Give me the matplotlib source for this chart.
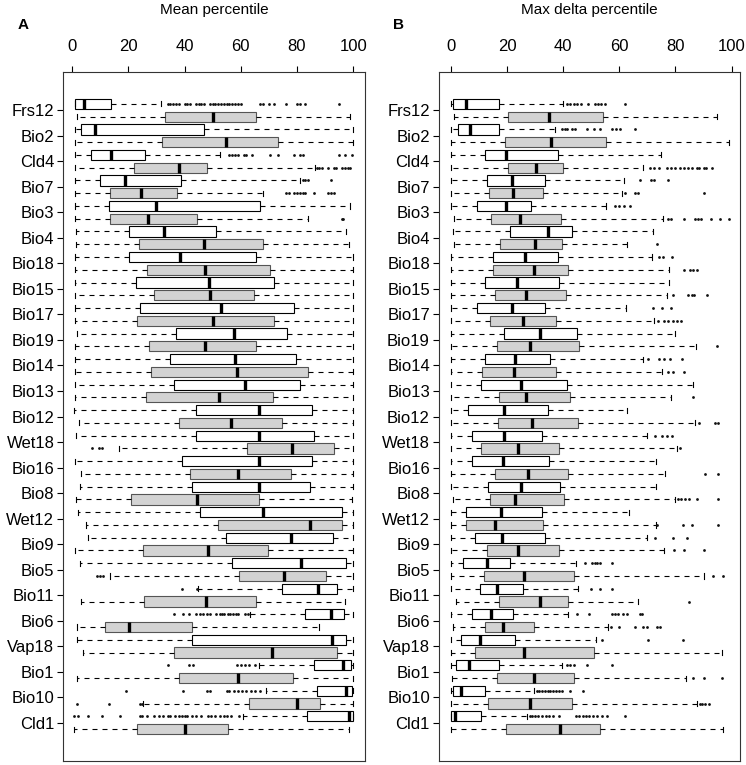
import matplotlib.pyplot as plt

plt.rcParams['font.family'] = ['Liberation Sans', 'DejaVu Sans']

variables = ['Frs12', 'Bio2', 'Cld4', 'Bio7', 'Bio3', 'Bio4', 'Bio18', 'Bio15', 'Bio17',
             'Bio19', 'Bio14', 'Bio13', 'Bio12', 'Wet18', 'Bio16', 'Bio8', 'Wet12', 'Bio9',
             'Bio5', 'Bio11', 'Bio6', 'Vap18', 'Bio1', 'Bio10', 'Cld1']

# (whisker low, Q1, median, Q3, whisker high) per variable
# panel A - mean percentile
mean_white = [
    (0.9, 1.2, 4.4, 13.7, 31.5), (1.1, 3.3, 8.2, 46.9, 99.8), (0.9, 6.6, 13.7, 26.1, 52.6),
    (0.9, 10.1, 19.0, 38.9, 81.0), (0.9, 13.3, 29.9, 66.8, 99.0), (1.5, 20.1, 32.7, 51.3, 97.6),
    (0.9, 20.1, 38.5, 65.4, 99.8), (0.9, 22.6, 48.8, 71.9, 99.8), (0.9, 24.1, 53.1, 79.0, 99.8),
    (1.7, 36.8, 57.5, 76.5, 99.8), (0.9, 35.0, 57.9, 79.6, 99.8), (0.9, 36.3, 61.5, 81.0, 99.8),
    (0.7, 44.1, 66.5, 85.3, 99.8), (1.4, 44.1, 66.5, 86.0, 99.8), (0.9, 39.0, 66.5, 85.3, 99.8),
    (2.8, 42.7, 66.6, 84.7, 99.8), (2.0, 45.6, 67.9, 96.1, 99.8), (5.6, 54.9, 77.7, 92.9, 99.8),
    (3.0, 56.8, 81.5, 97.6, 99.8), (44.9, 74.5, 87.6, 94.1, 99.8), (63.3, 82.9, 92.2, 96.7, 99.8),
    (1.7, 42.5, 92.4, 97.6, 99.8), (66.6, 85.9, 96.4, 99.2, 99.8), (69.0, 87.2, 97.6, 99.6, 99.8),
    (60.9, 83.6, 98.5, 99.8, 99.9),
]
mean_white_out = [
    [34, 35, 36, 37, 38, 40, 41, 42, 44, 45, 46, 47, 49, 50, 51, 52, 53, 54, 55, 56, 57, 58, 59, 60,
     67, 68, 70, 72, 76, 80, 81, 83, 95],
    [], [56, 57, 58, 59, 61, 62, 64, 70.4, 73.3, 79, 81, 82, 95, 97, 99.5], [82, 83, 84, 92],
    [], [], [], [], [], [], [], [], [], [], [], [], [], [], [],
    [39.1, 44.3],
    [36.4, 39.6, 41.6, 44, 45.6, 46.6, 48, 49, 51.3, 52.5, 53.3, 54.2, 55.3, 56.2, 57.2, 58.3,
     59.1, 61.6, 62.5],
    [],
    [34.2, 41.7, 43.1, 58.5, 60, 61.5, 63, 65],
    [19.2, 39.6, 47.9, 49, 55, 56, 57.5, 59, 60.5, 62, 63.5, 65, 66.8],
    [0.7, 2, 5.5, 10.5, 17, 24, 25, 26.5, 29, 31, 32.5, 34, 35, 36.5, 38, 39, 40, 41, 42.5, 44,
     46, 48.5, 49.5, 51, 52.5, 54, 55, 56.5, 59.5],
]
mean_grey = [
    (1.7, 33.2, 50.1, 65.6, 98.8), (0.9, 31.9, 54.6, 73.2, 99.9), (0.9, 21.9, 38.2, 47.9, 86.4),
    (0.9, 13.6, 24.5, 37.2, 67.8), (0.9, 13.6, 26.9, 44.5, 84.0), (1.5, 23.7, 46.8, 68.0, 98.6),
    (0.9, 26.7, 47.4, 70.4, 99.8), (0.9, 29.0, 48.9, 64.7, 99.8), (0.9, 23.0, 50.2, 71.7, 99.8),
    (0.9, 27.3, 47.4, 65.3, 99.8), (0.9, 28.1, 58.5, 83.9, 99.8), (0.9, 26.3, 52.3, 71.4, 99.8),
    (2.6, 38.2, 56.5, 74.6, 99.8), (16.6, 62.2, 78.4, 93.1, 99.8), (3.1, 41.9, 58.9, 78.0, 99.8),
    (1.3, 20.9, 44.3, 66.6, 99.4), (5.0, 51.8, 84.7, 96.1, 99.8), (0.9, 25.2, 48.2, 69.8, 99.8),
    (13.5, 59.4, 75.5, 90.5, 99.8), (3.3, 25.7, 47.6, 65.3, 97.0), (1.7, 11.6, 20.3, 42.5, 87.9),
    (4.0, 36.3, 71.2, 94.4, 99.8), (1.9, 38.0, 59.1, 78.7, 99.8), (25.4, 62.8, 79.9, 88.3, 99.8),
    (0.7, 23.0, 40.0, 55.6, 98.5),
]
mean_grey_out = [
    [], [], [87, 88, 89, 91, 93, 94, 96, 97, 98, 99], [76, 77, 79, 80, 81, 82, 83, 86, 91, 92, 93],
    [95.9, 96.5], [], [], [], [], [], [], [], [],
    [7.0, 9.7, 10.5], [], [], [], [],
    [8.8, 9.8, 11.1], [], [], [], [],
    [1.7, 13.0, 24.2, 25.0], [],
]

# panel B - max delta percentile
delta_white = [
    (0.2, 0.9, 5.3, 17.0, 39.9), (0.0, 2.6, 6.8, 17.3, 37.1), (0.0, 12.3, 19.7, 38.3, 74.7),
    (0.0, 13.0, 21.8, 33.7, 61.7), (0.0, 9.5, 19.5, 28.4, 55.3), (0.8, 21.0, 34.6, 43.1, 72.1),
    (0.0, 14.9, 26.3, 38.0, 71.6), (0.0, 12.3, 23.6, 38.6, 77.6), (0.0, 9.3, 21.7, 33.6, 62.4),
    (0.0, 18.9, 31.9, 45.0, 79.8), (0.0, 12.3, 22.7, 35.5, 68.6), (0.0, 10.8, 24.9, 41.2, 86.1),
    (0.0, 6.0, 19.1, 34.5, 62.6), (0.0, 7.4, 19.1, 32.6, 70.0), (0.0, 7.6, 18.6, 34.8, 73.1),
    (0.0, 13.4, 25.1, 38.9, 73.1), (0.0, 5.3, 18.0, 32.4, 63.6), (0.0, 8.7, 18.3, 33.6, 69.8),
    (0.0, 4.3, 13.0, 20.9, 44.5), (0.0, 10.4, 16.4, 25.6, 45.2), (0.0, 7.7, 14.2, 22.3, 41.6),
    (0.0, 3.8, 10.4, 23.0, 51.6), (0.0, 1.8, 6.6, 17.3, 39.5), (0.2, 0.8, 3.7, 12.3, 29.8),
    (0.0, 0.1, 1.4, 10.8, 27.0),
]
delta_white_out = [
    [41.3, 42.5, 44, 45, 46.5, 48.8, 51.5, 52.5, 53.6, 55, 62.2],
    [39.5, 40.5, 41.5, 43, 44.2, 48.6, 51, 53.1, 57.3, 59, 60.3, 65.7],
    [], [67.4, 71.3, 72.4, 77.2], [58.5, 60, 61.5, 63.8], [],
    [74, 75.7, 78.9], [], [72.1, 75.2, 78.4], [], [70.3, 74.1, 76, 78, 82.2], [], [],
    [72.7, 75.1, 76.9, 78.6], [], [], [], [72.7, 79.2, 84.2],
    [47.8, 50.2, 51.2, 52, 53.1, 57.3], [49.9, 53.1, 57.5],
    [44.8, 49.3, 57.3, 58.5, 59.7, 61.4, 62.9, 67.4, 68],
    [54, 70.1, 82.8],
    [41.3, 42.5, 43.7, 48.4, 57.4],
    [30.6, 31.5, 32.5, 33.5, 34.5, 35.5, 36.5, 37.5, 38.5, 39.5, 42.5, 47],
    [28.2, 29, 30, 31, 32.5, 33.8, 35, 36.5, 38.5, 44.6, 45.8, 47, 48.2, 49.3, 50.5, 52, 54,
     55.5, 62],
]
delta_grey = [
    (1.2, 20.2, 35.1, 54.3, 94.9), (0.0, 19.2, 35.7, 55.2, 98.9), (0.0, 20.3, 30.4, 40.1, 68.3),
    (0.0, 13.5, 22.3, 33.0, 61.1), (1.3, 14.4, 24.8, 39.4, 75.7), (1.3, 17.4, 30.0, 39.6, 62.8),
    (0.0, 15.2, 29.8, 41.9, 77.6), (0.0, 15.7, 26.9, 41.0, 76.9), (0.0, 14.0, 25.6, 37.4, 72.4),
    (0.0, 16.4, 28.2, 45.6, 87.4), (0.0, 11.2, 22.5, 37.5, 75.1), (0.0, 17.0, 26.9, 42.6, 78.4),
    (0.0, 16.7, 28.9, 45.4, 87.1), (0.0, 10.7, 24.1, 38.7, 80.7), (0.0, 15.9, 27.5, 41.6, 76.3),
    (0.8, 14.0, 22.8, 40.3, 79.8), (0.0, 5.5, 15.9, 32.7, 73.1), (0.0, 13.0, 24.1, 38.7, 75.9),
    (0.0, 11.9, 25.9, 43.7, 90.2), (1.8, 17.1, 31.8, 41.9, 66.8), (0.7, 12.2, 18.7, 29.8, 56.1),
    (0.0, 8.5, 26.1, 51.1, 96.6), (0.4, 16.5, 29.5, 43.8, 83.7), (0.0, 13.3, 28.2, 43.1, 87.8),
    (0.0, 19.6, 38.8, 53.1, 96.8),
]
delta_grey_out = [
    [], [],
    [71, 72.5, 74, 77, 78.5, 80, 81.5, 83, 84.5, 86, 87.5, 88.5, 90, 91, 93],
    [62, 65.6, 66.5, 90.2],
    [77.5, 78.5, 83, 87, 88, 89, 92.5, 96, 99],
    [73.5], [83, 85.2, 86.4, 87.5], [79, 84.6, 85.8, 86.6, 91.1],
    [73.9, 76, 77.5, 79, 80.5, 82], [94.7], [77.5, 79, 83], [86.1],
    [88.5, 94.1, 95.3], [81.6], [90.5, 95.3], [81, 82, 83.5, 85, 87.5, 95.3],
    [73.5, 82.8, 85.8, 95.3], [79.5, 83.2, 90.2], [93.5, 96.8], [84.9],
    [56.9, 60, 65.6, 68.6, 70, 73.5, 74.5], [], [86.1, 90.2, 96.6], [88.7, 89.5, 90.5, 92], [],
]


def make_stats(rows, outs):
    return [dict(whislo=r[0], q1=r[1], med=r[2], q3=r[3], whishi=r[4], fliers=o)
            for r, o in zip(rows, outs)]


def draw_panel(ax, white, white_out, grey, grey_out, xlim):
    n = len(variables)
    pos_white = [2 * i + 1 for i in range(n)]
    pos_grey = [2 * i + 2 for i in range(n)]
    common = dict(widths=0.8, capwidths=0.4, orientation='horizontal', patch_artist=True,
                  manage_ticks=False,
                  whiskerprops=dict(color='black', lw=0.8, linestyle=(0, (4.5, 4.5))),
                  capprops=dict(color='black', lw=0.8),
                  medianprops=dict(color='black', lw=2.4, solid_capstyle='butt'),
                  flierprops=dict(marker='o', markersize=2.0, markerfacecolor='#111111',
                                  markeredgewidth=0, linestyle='none'))
    ax.bxp(make_stats(white, white_out), positions=pos_white,
           boxprops=dict(facecolor='white', edgecolor='black', lw=0.8), **common)
    ax.bxp(make_stats(grey, grey_out), positions=pos_grey,
           boxprops=dict(facecolor='#d3d3d3', edgecolor='#555555', lw=0.8), **common)
    ax.set_ylim(52.5, -1.5)
    ax.set_xlim(*xlim)
    ax.set_yticks([2 * i + 1.5 for i in range(n)], variables)
    ax.xaxis.tick_top()
    ax.set_xticks([0, 20, 40, 60, 80, 100])
    ax.tick_params(axis='x', length=4, width=0.8, pad=9, labelsize=12)
    ax.tick_params(axis='y', length=4.5, width=0.8, pad=2, labelsize=12)
    for s in ax.spines.values():
        s.set_linewidth(0.8)
        s.set_color('#333333')


fig = plt.figure(figsize=(7.46, 7.65), dpi=100)
ax_a = fig.add_axes([0.0849, 0.0052, 0.4044, 0.9007])
ax_b = fig.add_axes([0.5885, 0.0052, 0.4035, 0.9007])

draw_panel(ax_a, mean_white, mean_white_out, mean_grey, mean_grey_out, (-3.1, 104.2))
draw_panel(ax_b, delta_white, delta_white_out, delta_grey, delta_grey_out, (-4.2, 103.0))

fig.text(0.2869, 1 - 10 / 765, 'Mean percentile', ha='center', va='center', fontsize=11)
fig.text(0.7903, 1 - 10 / 765, 'Max delta percentile', ha='center', va='center', fontsize=11)
fig.text(23 / 746, 1 - 25 / 765, 'A', ha='center', va='center', fontsize=11, weight='bold')
fig.text(399 / 746, 1 - 25 / 765, 'B', ha='center', va='center', fontsize=11, weight='bold')

fig.savefig('out.png', dpi=100)
